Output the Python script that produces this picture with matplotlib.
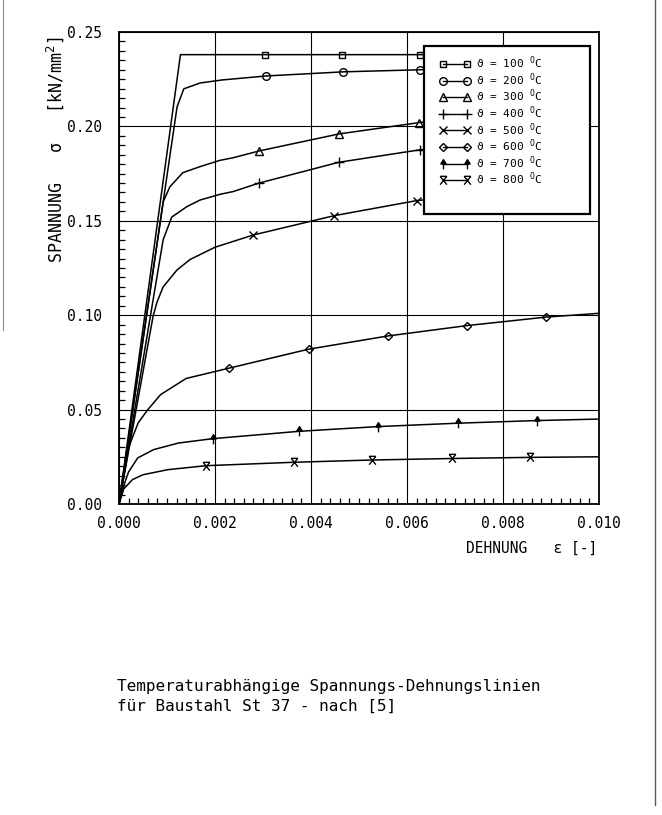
import matplotlib
matplotlib.use("Agg")
import matplotlib.pyplot as plt
from matplotlib.lines import Line2D
from matplotlib.patches import Rectangle
from matplotlib.path import Path


# Spannungs-Dehnungslinien St 37
eps_100 = [0, 0.00128, 0.00304, 0.00465, 0.00627, 0.0064]
sig_100 = [0, 0.238, 0.238, 0.238, 0.238, 0.238]
mark_100 = [2, 3, 4]

eps_200 = [0, 0.00121, 0.00135, 0.00169, 0.00215, 0.00306, 0.00467, 0.00628, 0.0064]
sig_200 = [0, 0.2104, 0.2199, 0.2230, 0.2246, 0.2267, 0.2289, 0.2300, 0.2301]
mark_200 = [5, 6, 7]

eps_300 = [0, 0.00092, 0.00106, 0.00133, 0.00169, 0.0021, 0.00238, 0.00292, 0.00458, 0.00625, 0.0064]
sig_300 = [0, 0.160, 0.168, 0.1755, 0.1787, 0.182, 0.1834, 0.187, 0.196, 0.202, 0.2025]
mark_300 = [7, 8, 9]

eps_400 = [0, 0.00092, 0.0011, 0.00142, 0.00169, 0.0021, 0.00238, 0.00292, 0.00458, 0.00627, 0.0064]
sig_400 = [0, 0.140, 0.152, 0.1576, 0.161, 0.164, 0.1655, 0.170, 0.181, 0.1876, 0.188]
mark_400 = [7, 8, 9]

eps_500 = [0, 0.00071, 0.00079, 0.00092, 0.00121, 0.00148, 0.0020, 0.0028, 0.00448, 0.0062, 0.0064]
sig_500 = [0, 0.0994, 0.1068, 0.115, 0.124, 0.1295, 0.136, 0.1425, 0.1527, 0.1607, 0.1612]
mark_500 = [7, 8, 9]

eps_600 = [0, 0.0002, 0.0004, 0.0006, 0.00087, 0.0014, 0.0023, 0.00395, 0.0056, 0.00725, 0.0089, 0.0100]
sig_600 = [0, 0.030, 0.043, 0.050, 0.058, 0.0665, 0.072, 0.082, 0.089, 0.0945, 0.099, 0.101]
mark_600 = [6, 7, 8, 9, 10]

eps_700 = [0, 0.00013, 0.0002, 0.00039, 0.00072, 0.00124, 0.00195, 0.00375, 0.00539, 0.00706, 0.00871, 0.0100]
sig_700 = [0, 0.012, 0.017, 0.0244, 0.0288, 0.0323, 0.0346, 0.0385, 0.041, 0.0428, 0.0442, 0.0450]
mark_700 = [6, 7, 8, 9, 10]

eps_800 = [0, 0.0001, 0.00028, 0.0005, 0.00102, 0.00182, 0.00364, 0.00527, 0.00693, 0.00857, 0.0100]
sig_800 = [0, 0.008, 0.0129, 0.0155, 0.0182, 0.0203, 0.0221, 0.0233, 0.0241, 0.0247, 0.0250]
mark_800 = [5, 6, 7, 8, 9]

temps = [100, 200, 300, 400, 500, 600, 700, 800]

x_ticks = [0.000, 0.002, 0.004, 0.006, 0.008, 0.010]
y_ticks = [0.00, 0.05, 0.10, 0.15, 0.20, 0.25]

FONT = ["DejaVu Sans Mono", "DejaVu Sans"]
plt.rcParams["font.family"] = FONT
plt.rcParams["mathtext.fontset"] = "dejavusans"

# Plotter-Symbole
M, L, C = Path.MOVETO, Path.LINETO, Path.CLOSEPOLY
arrow_up = Path([(0, -1), (0, 0.1), (-0.55, 0.1), (0, 1), (0.55, 0.1), (0, 0.1)],
                [M, L, M, L, L, C])
bar_x = Path([(-0.8, 1), (0.8, 1), (-0.8, 1), (0.8, -1), (0.8, 1), (-0.8, -1)],
             [M, L, M, L, M, L])

styles = {
    100: dict(marker="s", mfc="none", ms=5),
    200: dict(marker="o", mfc="none", ms=5.5),
    300: dict(marker="^", mfc="none", ms=5.5),
    400: dict(marker="+", ms=7),
    500: dict(marker="x", ms=6),
    600: dict(marker="D", mfc="none", ms=4),
    700: dict(marker=arrow_up, mfc="k", ms=7),
    800: dict(marker=bar_x, mfc="none", ms=6),
}

curves = {
    100: (eps_100, sig_100, mark_100),
    200: (eps_200, sig_200, mark_200),
    300: (eps_300, sig_300, mark_300),
    400: (eps_400, sig_400, mark_400),
    500: (eps_500, sig_500, mark_500),
    600: (eps_600, sig_600, mark_600),
    700: (eps_700, sig_700, mark_700),
    800: (eps_800, sig_800, mark_800),
}

fig = plt.figure(figsize=(6.62, 8.15), dpi=100)
ax = fig.add_axes([119 / 662, 311 / 815, 480 / 662, 472 / 815])

for t in temps:
    e, s, mk = curves[t]
    ax.plot(e, s, color="k", lw=1.1, markevery=mk, mec="k", mew=1.0, **styles[t])

ax.set_xlim(0, 0.010)
ax.set_ylim(0, 0.25)
ax.set_xticks(x_ticks)
ax.set_yticks(y_ticks)
ax.set_xticklabels(["%.3f" % v for v in x_ticks])
ax.set_yticklabels(["%.2f" % v for v in y_ticks])
ax.set_xticks([i * 0.0002 for i in range(51)], minor=True)
ax.set_yticks([i * 0.005 for i in range(51)], minor=True)
ax.tick_params(which="both", direction="in", top=False, right=False)
ax.tick_params(which="major", length=0, labelsize=10.5)
ax.tick_params(axis="x", which="major", pad=9)
ax.tick_params(axis="y", which="major", pad=12)
ax.tick_params(which="minor", length=4, width=0.9)
ax.grid(True, which="major", color="k", lw=0.8)
for sp in ax.spines.values():
    sp.set_linewidth(1.3)

# Legendenkasten
ax.add_patch(Rectangle((0.635, 0.615), 0.346, 0.355, transform=ax.transAxes,
                       facecolor="white", edgecolor="k", lw=1.6, zorder=5))
handles = [Line2D([], [], color="k", lw=1.0, mec="k", mew=1.0, **styles[t]) for t in temps]
labels = ["ϑ = %d $^{0}$C" % t for t in temps]
leg = ax.legend(handles, labels, loc="upper left", bbox_to_anchor=(0.668, 0.952),
                frameon=False, numpoints=2, handlelength=2.8, handletextpad=0.5,
                labelspacing=0.0, borderpad=0, borderaxespad=0, fontsize=8)
leg.set_zorder(6)

fig.text(55 / 662, 1 - 150 / 815, "SPANNUNG   σ   [kN/mm$^2$]", rotation=90,
         ha="center", va="center", fontsize=12)
fig.text(597 / 662, 1 - 548 / 815, "DEHNUNG   ε [-]", ha="right", va="center",
         fontsize=10.5)

fig.text(117 / 662, 1 - 686 / 815, "Temperaturabhängige Spannungs-Dehnungslinien",
         ha="left", va="center", fontsize=11.5)
fig.text(117 / 662, 1 - 706 / 815, "für Baustahl St 37 - nach [5]",
         ha="left", va="center", fontsize=11.5)

# Blattkanten der Vorlage
fig.add_artist(Line2D([655 / 662, 655 / 662], [1 - 805 / 815, 1], transform=fig.transFigure,
                      color="0.35", lw=1.0))
fig.add_artist(Line2D([3 / 662, 3 / 662], [1 - 330 / 815, 1], transform=fig.transFigure,
                      color="0.55", lw=0.8))

fig.savefig("out.png", dpi=100)
